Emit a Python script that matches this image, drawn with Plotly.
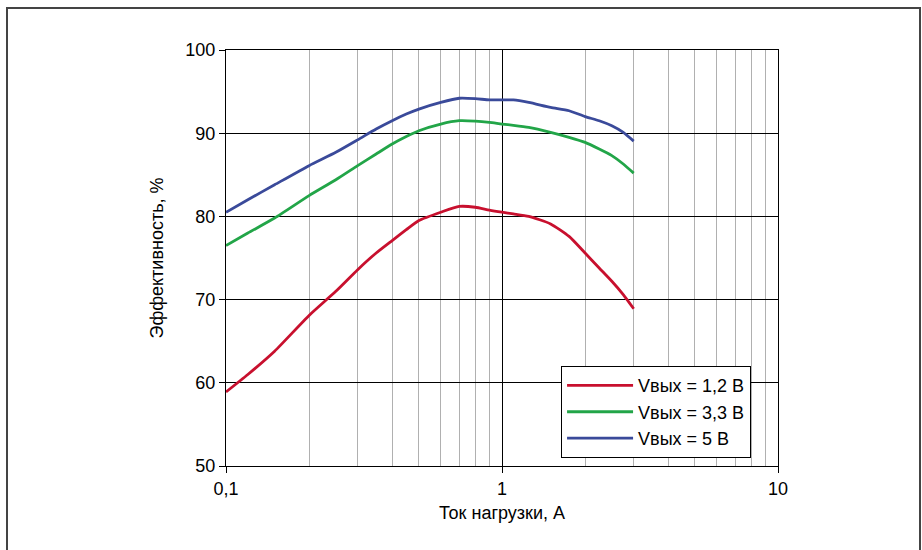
import plotly.graph_objects as go

current = [0.1, 0.12, 0.15, 0.2, 0.25, 0.3, 0.35, 0.4, 0.45, 0.5, 0.6, 0.7, 0.8, 0.9,
           1.0, 1.1, 1.25, 1.5, 1.75, 2.0, 2.25, 2.5, 2.75, 3.0]
eff_1v2 = [58.9, 61.0, 63.8, 68.1, 71.0, 73.6, 75.6, 77.1, 78.4, 79.5, 80.5, 81.2, 81.1, 80.75,
           80.5, 80.3, 80.0, 79.1, 77.6, 75.6, 73.8, 72.2, 70.6, 68.9]
eff_3v3 = [76.5, 78.0, 79.8, 82.5, 84.4, 86.1, 87.5, 88.7, 89.6, 90.3, 91.1, 91.5, 91.45, 91.3,
           91.1, 90.95, 90.7, 90.1, 89.5, 88.9, 88.1, 87.3, 86.3, 85.2]
eff_5v = [80.5, 82.0, 83.8, 86.1, 87.7, 89.2, 90.5, 91.5, 92.3, 92.9, 93.7, 94.2, 94.15, 94.0,
          94.0, 94.0, 93.7, 93.1, 92.7, 92.0, 91.5, 90.9, 90.1, 89.05]

series_names = ["Vвых = 1,2 В", "Vвых = 3,3 В", "Vвых = 5 В"]
series_colors = ["#C8102E", "#22A548", "#3A4A9A"]

x_ticks = [0.1, 1, 10]
x_ticklabels = ["0,1", "1", "10"]
x_minor = [0.2, 0.3, 0.4, 0.5, 0.6, 0.7, 0.8, 0.9, 2, 3, 4, 5, 6, 7, 8, 9]
y_ticks = [50, 60, 70, 80, 90, 100]

FONT = "Liberation Sans, Arial, sans-serif"
FS = 18

fig = go.Figure()
for name, ys, col in zip(series_names, [eff_1v2, eff_3v3, eff_5v], series_colors):
    fig.add_trace(go.Scatter(x=current, y=ys, mode="lines", name=name,
                             line=dict(color=col, width=2.8, shape="spline", smoothing=0.6)))

fig.update_layout(
    width=922, height=550,
    margin=dict(l=226, r=144, t=50, b=84),
    paper_bgcolor="white", plot_bgcolor="white",
    font=dict(family=FONT, size=FS, color="black"),
    showlegend=True,
    legend=dict(x=0.607, y=0.24, xanchor="left", yanchor="top",
                bgcolor="white", bordercolor="black", borderwidth=1,
                font=dict(family=FONT, size=FS, color="black"),
                tracegroupgap=0, itemwidth=66),
    xaxis=dict(type="log", range=[-1, 1], tickvals=x_ticks, ticktext=x_ticklabels,
               showgrid=True, gridcolor="black", gridwidth=1.2,
               ticks="outside", ticklen=6, tickcolor="black", tickwidth=1.2,
               showline=True, linecolor="black", linewidth=1.2, mirror=True,
               zeroline=False,
               minor=dict(tickvals=x_minor, showgrid=True, gridcolor="#b0b0b0", gridwidth=1.2,
                          ticks=""),
               title=dict(text="Ток нагрузки, А", font=dict(size=FS), standoff=8),
               tickfont=dict(size=FS)),
    yaxis=dict(range=[50, 100], tickvals=y_ticks,
               showgrid=True, gridcolor="black", gridwidth=1.2,
               ticks="outside", ticklen=6, tickcolor="black", tickwidth=1.2,
               showline=True, linecolor="black", linewidth=1.2, mirror=True,
               zeroline=False,
               title=dict(text="Эффективность, %", font=dict(size=FS), standoff=16),
               tickfont=dict(size=FS)),
)

fig.add_shape(type="rect", xref="paper", yref="paper",
              x0=(7 - 226) / 552, x1=(920 - 226) / 552,
              y0=(466 - 600) / 416, y1=(466 - 8) / 416,
              line=dict(color="#444444", width=2), fillcolor="rgba(0,0,0,0)", layer="below")

fig.write_html("out.html", config={"displayModeBar": False},
               post_script="document.body.style.margin='0';document.body.style.overflow='hidden';")
